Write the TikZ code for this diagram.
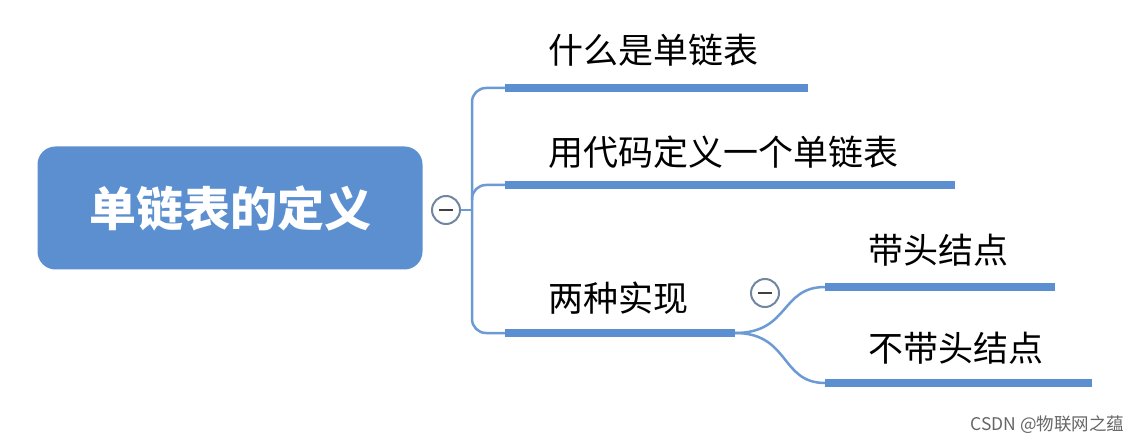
\documentclass[tikz,border=0pt]{standalone}
\usepackage{fontspec}
\newfontfamily\cjk{Noto Sans CJK SC}
\begin{document}
\begin{tikzpicture}[x=1pt,y=-1pt,
  ubar/.style={line width=8pt,draw=mblue},
  conn/.style={line width=2.5pt,draw=mblue!90},
  lbl/.style={font=\cjk\fontsize{35}{37}\selectfont,anchor=west,inner sep=0pt},
  tog/.style={circle,draw=gray!60!mblue,line width=2pt,fill=white,minimum size=28pt,inner sep=0pt}]
\definecolor{mblue}{HTML}{5B8FD0}
\useasboundingbox (0,0) rectangle (1139,443);
\fill[white] (0,0) rectangle (1139,443);
\node[fill=mblue,rounded corners=18pt,minimum width=385pt,minimum height=123pt,text=white,font=\cjk\bfseries\fontsize{47}{49}\selectfont] (root) at (230,208) {单链表的定义};
\coordinate (t1) at (505,88);
\coordinate (t2) at (505,185);
\coordinate (t3) at (505,333);
\node[tog] (c1) at (446,210) {};
\draw[line width=2.2pt,gray!50!black] (c1.center)++(-7,0) -- ++(14,0);
\draw[conn,rounded corners=14pt] (t1) -- (472,88) -- (472,333) -- (t3);
\draw[conn,rounded corners=14pt] (472,200) -- (472,185) -- (t2);
\draw[conn] (c1.east) -- (472,210);
\draw[ubar] (t1) -- (808,88);
\draw[ubar] (t2) -- (955,185);
\draw[ubar] (t3) -- (735,333);
\node[lbl] (n1) at (548,50) {什么是单链表};
\node[lbl] (n2) at (548,152) {用代码定义一个单链表};
\node[lbl] (n3) at (548,298) {两种实现};
\node[tog] (c2) at (765,293) {};
\draw[line width=2.2pt,gray!50!black] (c2.center)++(-7,0) -- ++(14,0);
\coordinate (s1) at (825,287);
\coordinate (s2) at (825,383);
\draw[conn] (735,333) .. controls (790,333) and (780,287) .. (s1);
\draw[conn] (735,333) .. controls (790,333) and (780,383) .. (s2);
\draw[ubar] (s1) -- (1055,287);
\draw[ubar] (s2) -- (1092,383);
\node[lbl] (n4) at (868,250) {带头结点};
\node[lbl] (n5) at (868,348) {不带头结点};
\node[anchor=east,text=gray!80!black,font=\cjk\fontsize{17.5}{18}\selectfont] (wm) at (1128,425) {CSDN @物联网之蕴};
\end{tikzpicture}
\end{document}
